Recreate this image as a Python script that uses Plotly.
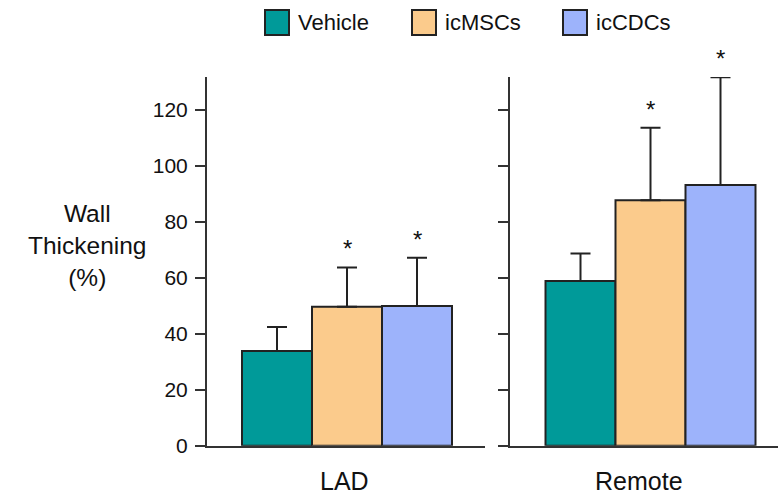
import plotly.graph_objects as go

# ---- data ----
categories = ["LAD", "Remote"]
groups = ["Vehicle", "icMSCs", "icCDCs"]
vehicle_mean = [33.8, 58.8]
icmsc_mean = [49.6, 87.6]
iccdc_mean = [49.9, 93.1]
vehicle_err = [8.6, 9.8]
icmsc_err = [14.0, 25.9]
iccdc_err = [17.2, 38.4]
significant = {"Vehicle": [False, False], "icMSCs": [True, True], "icCDCs": [True, True]}
y_ticks = [0, 20, 40, 60, 80, 100, 120]
y_title = "Wall<br>Thickening<br>(%)"

means = {"Vehicle": vehicle_mean, "icMSCs": icmsc_mean, "icCDCs": iccdc_mean}
errs = {"Vehicle": vehicle_err, "icMSCs": icmsc_err, "icCDCs": iccdc_err}
colors = {"Vehicle": "#009a99", "icMSCs": "#fbcb8c", "icCDCs": "#9db3fb"}

S = 0.978            # observed vertical capture factor
W = 778
H = round(498 / S)   # figure height in page px
FONT = "Liberation Sans, Arial, sans-serif"
INK = "#222222"
AX = "#333333"


def px(xv):
    return xv / W


def py(yv):
    return (H - yv / S) / H


fig = go.Figure()
axes = [("x", "y"), ("x2", "y2")]
for ci, cat in enumerate(categories):
    xa, ya = axes[ci]
    for g in groups:
        fig.add_trace(go.Bar(
            x=[cat], y=[means[g][ci]], name=g, showlegend=False,
            xaxis=xa, yaxis=ya,
            marker=dict(color=colors[g], line=dict(color=INK, width=2)),
            error_y=dict(type="data", symmetric=False, array=[errs[g][ci]],
                         arrayminus=[0], color=INK, thickness=2, width=10),
        ))

bargap = 0.2
bw = (1 - bargap) / len(groups)
offsets = [(i - (len(groups) - 1) / 2) * bw for i in range(len(groups))]

# significance asterisks
for ci, cat in enumerate(categories):
    xa, ya = axes[ci]
    for gi, g in enumerate(groups):
        if significant[g][ci]:
            fig.add_annotation(x=offsets[gi], y=means[g][ci] + errs[g][ci],
                               xref=xa, yref=ya, text="*", showarrow=False,
                               yanchor="bottom", yshift=3 / S,
                               font=dict(family=FONT, size=24, color="#111"))

# layout geometry (pixel based, reference coordinates)
ybot, ytop = 445.5, 77.0
yrange = [0, (ybot - ytop) / 2.8]
ydom = [py(ybot), py(ytop)]
pxu = 262.5
x1l, x1r, c1 = 207, 485, 347
x2l, x2r, c2 = 510, 778, 650.5
xr1 = [-(c1 - x1l) / pxu, (x1r - c1) / pxu]
xr2 = [-(c2 - x2l) / pxu, (x2r - c2) / pxu]

common_x = dict(showline=True, linecolor=AX, linewidth=2, ticks="",
                showticklabels=False, showgrid=False, zeroline=False,
                type="category", fixedrange=True)
common_y = dict(showline=True, linecolor=AX, linewidth=2, ticks="outside",
                ticklen=10, tickwidth=2, tickcolor=AX, tickvals=y_ticks,
                range=yrange, domain=ydom, showgrid=False, zeroline=False)

fig.update_layout(
    width=W, height=H, margin=dict(l=0, r=0, t=0, b=0),
    paper_bgcolor="white", plot_bgcolor="white",
    barmode="group", bargap=bargap, bargroupgap=0,
    font=dict(family=FONT, color="#111"),
    xaxis=dict(domain=[px(x1l), px(x1r)], range=xr1, anchor="y", **common_x),
    xaxis2=dict(domain=[px(x2l), px(x2r)], range=xr2, anchor="y2", **common_x),
    yaxis=dict(anchor="x", showticklabels=True, tickfont=dict(size=21, family=FONT, color="#111"),
               ticklabelstandoff=3, **common_y),
    yaxis2=dict(anchor="x2", showticklabels=False, **common_y),
)

# category labels under each panel
label_x = [344, 639]
for ci, cat in enumerate(categories):
    fig.add_annotation(x=px(label_x[ci]), y=py(481), xref="paper", yref="paper",
                       text=cat, showarrow=False, xanchor="center", yanchor="middle",
                       font=dict(family=FONT, size=25, color="#111"))

# y title
fig.add_annotation(x=px(87), y=py(245), xref="paper", yref="paper",
                   text=y_title, showarrow=False, xanchor="center", yanchor="middle",
                   align="center", font=dict(family=FONT, size=24.5, color="#111"))

# legend (boxes + labels)
leg_box_x = [265, 412, 563]
for gi, g in enumerate(groups):
    x0 = leg_box_x[gi]
    fig.add_shape(type="rect", xref="paper", yref="paper",
                  x0=px(x0), x1=px(x0 + 24), y0=py(35), y1=py(10),
                  fillcolor=colors[g], line=dict(color=INK, width=2))
    fig.add_annotation(x=px(x0 + 31), y=py(22.5), xref="paper", yref="paper",
                       text=g, showarrow=False, xanchor="left", yanchor="middle",
                       font=dict(family=FONT, size=22, color="#111"))

fig.write_html(
    "out.html",
    config={"displayModeBar": False},
    post_script="document.body.style.margin='0';document.body.style.overflow='hidden';",
)
